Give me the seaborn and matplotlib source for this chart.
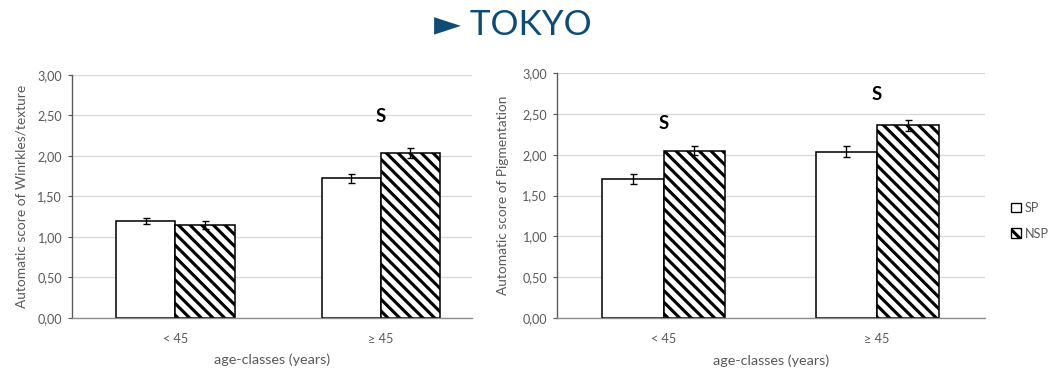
import matplotlib
matplotlib.use("Agg")
import matplotlib.pyplot as plt
from matplotlib.patches import Patch
from matplotlib.ticker import FuncFormatter, MultipleLocator
import pandas as pd
import seaborn as sns

# Age classes and study groups
categories = ["< 45", "≥ 45"]
groups = ["SP", "NSP"]

# Wrinkles/texture score (mean and half error bar)
wrinkles_sp = [1.19, 1.72]
wrinkles_nsp = [1.15, 2.03]
wrinkles_sp_err = [0.035, 0.058]
wrinkles_nsp_err = [0.05, 0.062]

# Pigmentation score (mean and half error bar)
pigment_sp = [1.70, 2.04]
pigment_nsp = [2.05, 2.36]
pigment_sp_err = [0.06, 0.063]
pigment_nsp_err = [0.055, 0.065]

# Significance markers: (category index, height)
wrinkles_sig = [(1, 2.49)]
pigment_sig = [(0, 2.385), (1, 2.74)]

title_text = "► TOKYO"
xlabel_text = "age-classes (years)"
ylabel_wrinkles = "Automatic score of Winrkles/texture"
ylabel_pigment = "Automatic score of Pigmentation"

BACKSLASH_HATCH = chr(92) * 4  # dense diagonal stripes, top-left to bottom-right

sns.set_theme(style="white")
plt.rcParams["font.family"] = ["Lato", "DejaVu Sans"]
plt.rcParams["hatch.linewidth"] = 1.6
plt.rcParams["hatch.color"] = "black"

TEXT_GREY = "#595959"
GRID_GREY = "#d9d9d9"
AXIS_GREY = "#8c8c8c"
TITLE_BLUE = "#0f4c75"
TICK_FS = 6.5
LABEL_FS = 7.1

DPI = 140
W, H = 1063, 369
fig = plt.figure(figsize=(W / DPI, H / DPI), dpi=DPI)
fig.patch.set_facecolor("white")

ax_w = fig.add_axes([71.7 / W, 1 - 317.7 / H, 400 / W, 243 / H])
ax_p = fig.add_axes([556.7 / W, 1 - 317.7 / H, 428.3 / W, 244.4 / H])


def long_frame(sp, nsp, sp_err, nsp_err):
    rows = []
    for i, cat in enumerate(categories):
        rows.append({"age": cat, "group": "SP", "score": sp[i], "err": sp_err[i]})
        rows.append({"age": cat, "group": "NSP", "score": nsp[i], "err": nsp_err[i]})
    return pd.DataFrame(rows)


def draw_panel(ax, df, ylabel, sig, xlim, ylab_x):
    sns.barplot(
        data=df, x="age", y="score", hue="group", order=categories,
        hue_order=groups, palette=["white", "white"], width=0.576,
        edgecolor="black", linewidth=0.8, errorbar=None, legend=False, ax=ax,
    )
    # hatching for NSP, error bars at each bar's centre
    for grp, cont in zip(groups, ax.containers):
        sub = df[df["group"] == grp].set_index("age").loc[categories]
        for bar, err in zip(cont.patches, sub["err"]):
            if grp == "NSP":
                bar.set_hatch(BACKSLASH_HATCH)
            cx = bar.get_x() + bar.get_width() / 2
            ax.errorbar(cx, bar.get_height(), yerr=err, fmt="none",
                        ecolor="black", elinewidth=0.7, capsize=1.8,
                        capthick=0.7, zorder=5)
    for idx, h in sig:
        ax.text(idx, h, "S", ha="center", va="center", fontsize=9.5,
                fontweight="bold", color="black")

    ax.set_ylim(0, 3)
    ax.set_xlim(*xlim)
    ax.yaxis.set_major_locator(MultipleLocator(0.5))
    ax.yaxis.set_major_formatter(FuncFormatter(lambda v, _: f"{v:.2f}".replace(".", ",")))
    ax.grid(axis="y", color=GRID_GREY, linewidth=0.7)
    ax.set_axisbelow(True)
    for s in ("top", "right"):
        ax.spines[s].set_visible(False)
    ax.spines["left"].set_color("#595959")
    ax.spines["left"].set_linewidth(0.7)
    ax.spines["bottom"].set_color(AXIS_GREY)
    ax.spines["bottom"].set_linewidth(0.7)
    ax.tick_params(axis="y", which="major", left=True, length=2.0, width=0.6,
                   color="#595959", pad=2.9, labelsize=TICK_FS, labelcolor=TEXT_GREY)
    ax.tick_params(axis="x", bottom=False, pad=1.8, labelsize=TICK_FS,
                   labelcolor=TEXT_GREY)
    ax.set_xlabel(xlabel_text, fontsize=LABEL_FS + 0.3, color=TEXT_GREY)
    ax.xaxis.label.set_verticalalignment("center")
    ax.xaxis.set_label_coords(0.5, -(360 - 317.7) / 243)
    ax.set_ylabel(ylabel, fontsize=LABEL_FS, color=TEXT_GREY)
    ax.yaxis.label.set_verticalalignment("center")
    ax.yaxis.set_label_coords(ylab_x, 0.5)


draw_panel(ax_w, long_frame(wrinkles_sp, wrinkles_nsp, wrinkles_sp_err, wrinkles_nsp_err),
           ylabel_wrinkles, wrinkles_sig, (-0.505, 1.443), (21.7 - 71.7) / 400)
draw_panel(ax_p, long_frame(pigment_sp, pigment_nsp, pigment_sp_err, pigment_nsp_err),
           ylabel_pigment, pigment_sig, (-0.502, 1.506), (503 - 556.7) / 428.3)

handles = [
    Patch(facecolor="white", edgecolor="black", linewidth=0.7, label="SP"),
    Patch(facecolor="white", edgecolor="black", linewidth=0.7,
          hatch=BACKSLASH_HATCH, label="NSP"),
]
leg = fig.legend(handles=handles, loc="center left",
                 bbox_to_anchor=(1010.7 / W, 1 - 220.7 / H), frameon=False,
                 fontsize=TICK_FS, handlelength=0.8, handleheight=0.8,
                 handletextpad=0.3, labelspacing=1.1, borderaxespad=0,
                 borderpad=0)
for t in leg.get_texts():
    t.set_color(TEXT_GREY)

fig.text(513 / W, 1 - 25 / H, title_text, ha="center", va="center",
         fontsize=18, color=TITLE_BLUE, family=["Lato", "DejaVu Sans"])

fig.savefig("out.png", dpi=DPI, facecolor="white")
